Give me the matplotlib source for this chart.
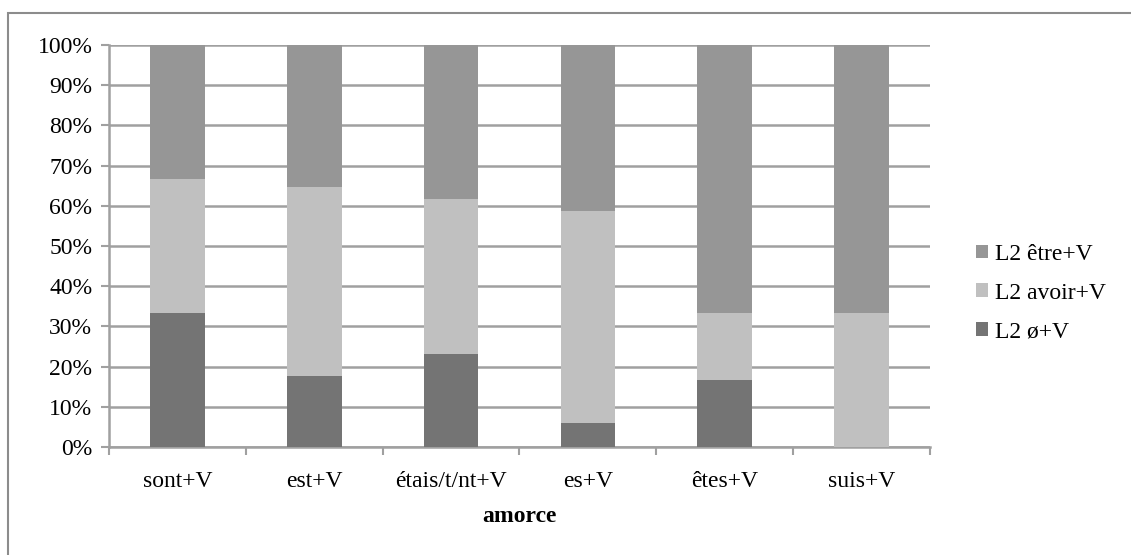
import matplotlib.pyplot as plt
from matplotlib.patches import Rectangle
import numpy as np

plt.rcParams['font.family'] = ['Liberation Serif', 'DejaVu Serif']

amorces = ['sont+V', 'est+V', 'étais/t/nt+V', 'es+V', 'êtes+V', 'suis+V']
# share of responses per prime (percent)
zero_v = [33.3, 17.6, 23.1, 5.9, 16.7, 0.0]
avoir_v = [33.3, 47.1, 38.5, 52.9, 16.7, 33.3]
etre_v = [33.4, 35.3, 38.4, 41.2, 66.6, 66.7]

series_names = ['L2 ø+V', 'L2 avoir+V', 'L2 être+V']
series_colors = ['#747474', '#c0c0c0', '#969696']

fig = plt.figure(figsize=(11.31, 5.55), dpi=100)
# outer chart frame
fig.patches.append(Rectangle((8 / 1131, -0.1), 1.2, 1 - 13 / 555 + 0.1,
                             transform=fig.transFigure, fill=False,
                             edgecolor='#8c8c8c', linewidth=1.5))

ax = fig.add_axes([109 / 1131, 1 - 447 / 555, (930 - 109) / 1131, (447 - 45) / 555])

x = np.arange(len(amorces))
bottom = np.zeros(len(amorces))
handles = []
for vals, name, col in zip([zero_v, avoir_v, etre_v], series_names, series_colors):
    b = ax.bar(x, vals, 0.4, bottom=bottom, color=col, label=name, zorder=3)
    handles.append(b)
    bottom += np.array(vals)

ax.set_xlim(-0.5, len(amorces) - 0.5)
ax.set_ylim(0, 100)
ax.set_yticks(range(0, 101, 10))
ax.set_yticklabels([f'{v}%' for v in range(0, 101, 10)], fontsize=17)
ax.yaxis.grid(True, color='#a0a0a0', linewidth=1.8, zorder=0)

ax.set_xticks(x)
ax.set_xticklabels(amorces, fontsize=17)
ax.set_xticks(np.arange(-0.5, len(amorces)), minor=True)
ax.tick_params(axis='x', which='major', length=0, pad=17)
ax.tick_params(axis='x', which='minor', length=6, width=1.5, color='#a0a0a0')
ax.tick_params(axis='y', length=6, width=1.5, color='#a0a0a0', pad=6)

for s in ['top', 'right']:
    ax.spines[s].set_visible(False)
for s in ['left', 'bottom']:
    ax.spines[s].set_color('#a0a0a0')
    ax.spines[s].set_linewidth(1.8)

ax.set_xlabel('amorce', fontsize=17, fontweight='bold', labelpad=10)

ax.legend(handles[::-1], series_names[::-1], loc='center left',
          bbox_to_anchor=(1.03, 0.383), frameon=False, fontsize=17,
          handlelength=0.5, handleheight=0.5, handletextpad=0.3,
          labelspacing=0.75)

fig.savefig('out.png', dpi=100)
